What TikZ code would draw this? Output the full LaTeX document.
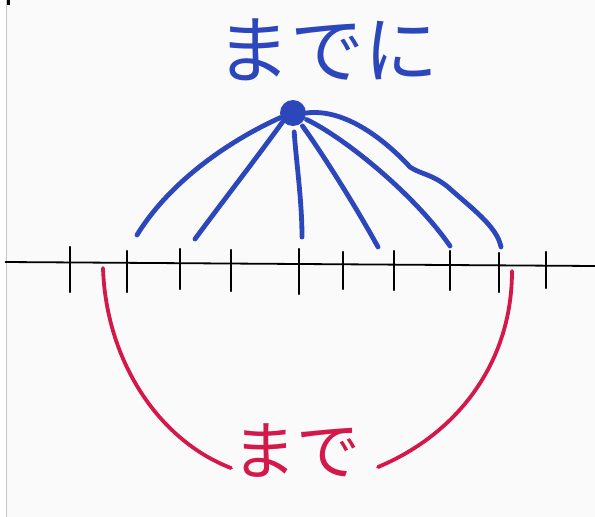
\documentclass[tikz,border=0pt]{standalone}
\usepackage{fontspec}
\usepackage{xcolor}
\usepackage{tikz}
\usetikzlibrary{positioning, calc}
\newfontfamily\jpfont{Noto Sans CJK JP}
\definecolor{penblue}{RGB}{44,70,188}
\definecolor{penred}{RGB}{212,24,74}
\definecolor{paper}{RGB}{250,250,250}
\tikzset{
  spoke/.style={penblue, line width=4.8pt, line cap=round},
  span/.style={penred, line width=3.8pt, line cap=round},
  tick/.style={black, line width=2.3pt, line cap=round}
}

\begin{document}
\begin{tikzpicture}[x=1pt, y=-1pt]
\begin{scope}
  % Paper
  \useasboundingbox (0,0) rectangle (595,517);
  \fill[white] (0,0) rectangle (6.5,517);
  \fill[paper] (6.5,0) rectangle (595,517);
  \draw[gray!45, line width=1pt] (6.5,0) -- (6.5,517);
  \fill[black] (7,0) rectangle (10,5);

  % Number line
  \coordinate (l0) at (5,262);
  \coordinate (l1) at (595,266);
  \draw[black, line width=1.8pt] (l0) -- (l1);

  % ticks: x / top / bottom
  \foreach \x/\t/\b in {70/247/292, 127/251/292, 180/249/289, 231/250/291,
                        299/249/294, 343/252/289, 394/251/290, 450/251/290,
                        499/253/292, 546/252/288}
    \draw[tick] (\x,\t) -- (\x,\b);

  % Blue: までに
  \node[penblue, font=\jpfont\fontsize{74}{74}\selectfont] (madeni) at (327,50) {までに};
  \node[circle, fill=penblue, minimum size=26pt, inner sep=0pt] (dot) at (293,113) {};

  \coordinate (b1) at (137,235);
  \coordinate (b2) at (195,239);
  \coordinate (b3) at (302,237);
  \coordinate (b4) at (378,247);
  \coordinate (b5) at (450,246);
  \coordinate (b6) at (501,247);

  \draw[spoke] (dot.200) .. controls (235,138) and (172,178) .. (b1);
  \draw[spoke] (dot.220) .. controls (255,160) and (220,205) .. (b2);
  \draw[spoke, shorten <=19pt] (dot.center) .. controls (296,160) and (302,200) .. (b3);
  \draw[spoke, shorten <=16pt] (dot.center) .. controls (320,150) and (355,205) .. (b4);
  \draw[spoke, shorten <=15pt] (dot.center) .. controls (345,138) and (415,195) .. (b5);
  \draw[spoke] (dot.east) .. controls (345,108) and (385,140) .. (410,167)
                          .. controls (420,174) and (432,174) .. (448,187)
                          .. controls (470,207) and (497,226) .. (b6);

  % Red: まで
  \node[penred, font=\jpfont\fontsize{64}{64}\selectfont] (made) at (296,451) {まで};

  \coordinate (r0) at (103,268);
  \coordinate (r1) at (231,468);
  \coordinate (r2) at (378,467);
  \coordinate (r3) at (512,271);

  \draw[span] (r0) .. controls (106,360) and (158,440) .. (r1);
  \draw[span] (r2) .. controls (455,435) and (512,365) .. (r3);
\end{scope}
\end{tikzpicture}
\end{document}
